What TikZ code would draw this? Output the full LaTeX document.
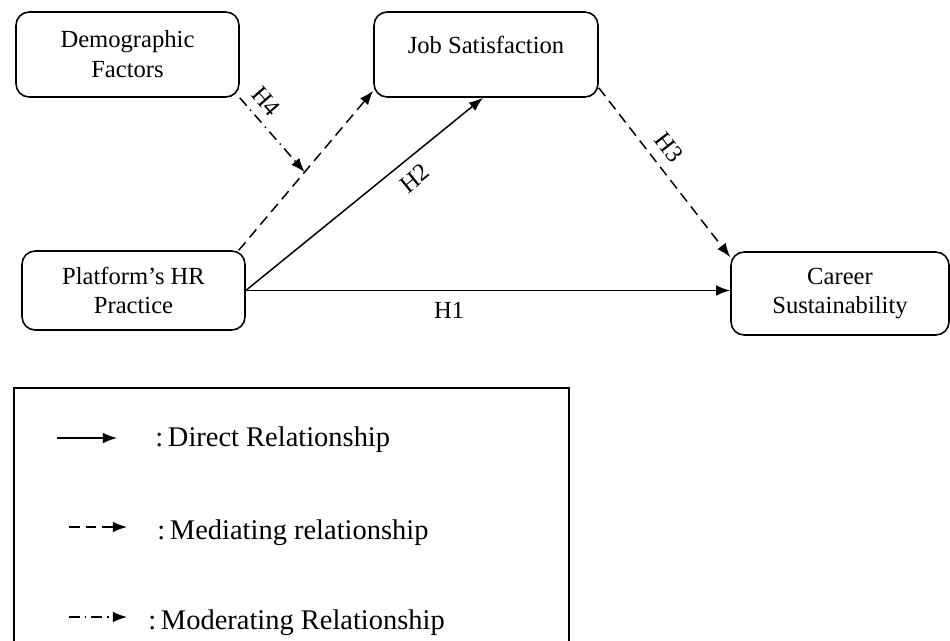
\documentclass[tikz,border=0pt]{standalone}
\usepackage{fontspec}
\setmainfont{Liberation Serif}
\usepackage{tikz}
\usetikzlibrary{arrows.meta,positioning}
\tikzset{
  construct/.style={draw, rounded corners=7.5pt, line width=0.9pt, align=center,
    minimum width=4.46cm, minimum height=1.7cm, inner sep=2pt,
    font=\fontsize{14}{17}\selectfont},
  direct/.style={line width=0.85pt, -{Latex[length=8pt,width=6pt]}},
  mediate/.style={direct, dash pattern=on 6pt off 3.5pt},
  moderate/.style={direct, dash pattern=on 6pt off 3pt on 0.8pt off 3pt},
  hyp/.style={font=\fontsize{14}{16}\selectfont, inner sep=1pt},
  legtext/.style={anchor=west, font=\fontsize{16.2}{19}\selectfont, inner sep=0pt}
}

\begin{document}
\begin{tikzpicture}[x=0.02cm, y=-0.02cm]
  \useasboundingbox (0,0) rectangle (950,640);
  % Define nodes
  \node[construct]                          (dem)  at (127.5,54.5) {Demographic\\Factors};
  \node[construct, minimum width=4.48cm, text depth=11pt] (job) at (486,54.5) {Job Satisfaction};
  \node[construct, minimum height=1.58cm]   (plat) at (133.5,290.5) {Platform’s HR\\Practice};
  \node[construct, minimum width=4.36cm, minimum height=1.66cm] (car) at (840,293.5) {Career\\Sustainability};

  % Connect the nodes
  \draw[mediate] ([xshift=-0.14cm]plat.north east) -- coordinate[pos=0.49] (mid) ([yshift=0.14cm]job.south west);
  \draw[direct] (plat.east) -- node[hyp, sloped, below=5pt, pos=0.66] {H2} ([xshift=-0.06cm]job.south);
  \draw[direct] (plat.east) -- node[hyp, below=5pt, pos=0.42] {H1} (plat.east -| car.west);
  \draw[mediate] ([yshift=0.2cm]job.south east) -- node[hyp, sloped, above=5pt, pos=0.42] {H3} ([yshift=-0.12cm]car.north west);
  \draw[moderate] (dem.south east) -- node[hyp, sloped, above=4pt, pos=0.2] {H4} (mid);

  % Legend
  \draw[line width=0.9pt] (14,388) rectangle (569,680);
  \coordinate (l1) at (57,438);
  \coordinate (l2) at (69,527);
  \coordinate (l3) at (69,617);
  \draw[direct] (l1) -- ++(60,0) coordinate (l1e);
  \draw[mediate] (l2) -- ++(58,0) coordinate (l2e);
  \draw[moderate] (l3) -- ++(58,0) coordinate (l3e);
  \node[legtext, right=0.76cm of l1e, yshift=-0.04cm] (t1) {:\,Direct Relationship};
  \node[legtext, right=0.6cm of l2e, yshift=-0.12cm] (t2) {:\,Mediating relationship};
  \node[legtext, right=0.42cm of l3e, yshift=-0.12cm] (t3) {:\,Moderating Relationship};
\end{tikzpicture}
\end{document}
